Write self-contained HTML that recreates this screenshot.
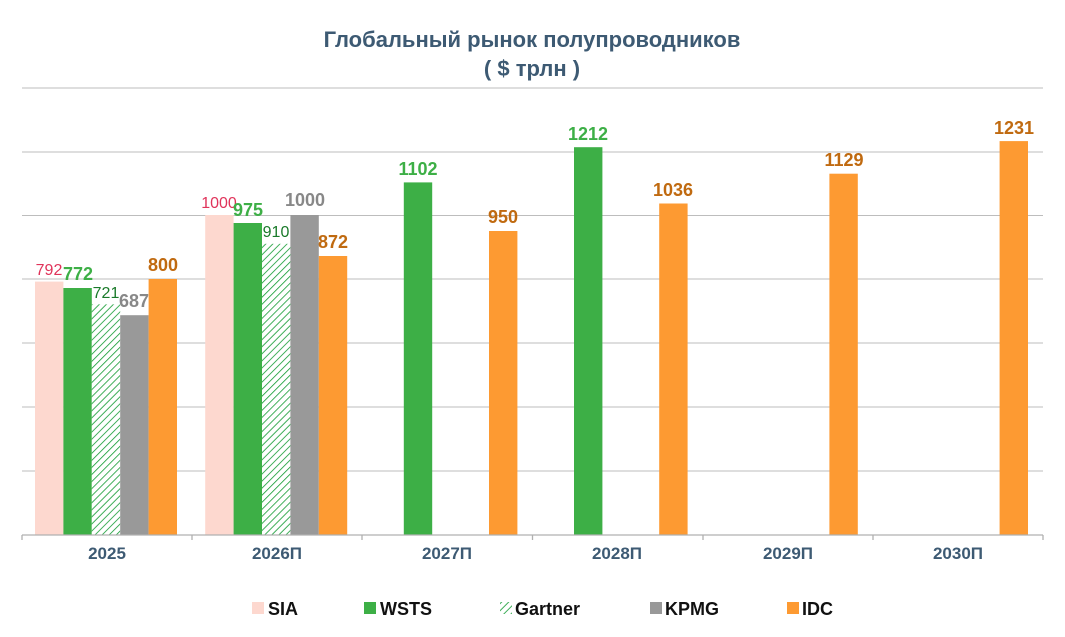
<!DOCTYPE html>
<html><head><meta charset="utf-8"><style>body{margin:0;background:#fff}svg{display:block}</style></head><body>
<svg width="1065" height="637" viewBox="0 0 1065 637" xmlns="http://www.w3.org/2000/svg" font-family="Liberation Sans, sans-serif">
<defs><pattern id="h" width="5" height="5" patternUnits="userSpaceOnUse" patternTransform="rotate(45)"><rect width="5" height="5" fill="#fff"/><line x1="0" y1="0" x2="0" y2="5" stroke="#109a30" stroke-width="1.6"/></pattern></defs>
<text x="532" y="47" text-anchor="middle" font-size="22" font-weight="bold" fill="#3d5a73">Глобальный рынок полупроводников</text>
<text x="532" y="76" text-anchor="middle" font-size="22" font-weight="bold" fill="#3d5a73">( $ трлн )</text>
<g stroke="#bdbdbd" stroke-width="1">
<line x1="22" y1="88" x2="1043" y2="88"/><line x1="22" y1="152" x2="1043" y2="152"/><line x1="22" y1="215.5" x2="1043" y2="215.5"/><line x1="22" y1="279" x2="1043" y2="279"/><line x1="22" y1="343" x2="1043" y2="343"/><line x1="22" y1="407" x2="1043" y2="407"/><line x1="22" y1="471" x2="1043" y2="471"/>
</g>
<g>
<rect x="35" y="281.6" width="28.4" height="253.4" fill="#fdd8cf"/>
<rect x="63.4" y="288" width="28.4" height="247" fill="#3daf46"/>
<rect x="91.8" y="304.3" width="28.4" height="230.7" fill="url(#h)"/>
<rect x="120.2" y="315.2" width="28.4" height="219.8" fill="#999"/>
<rect x="148.6" y="279" width="28.4" height="256" fill="#fd9a32"/>
<rect x="205.2" y="215" width="28.4" height="320" fill="#fdd8cf"/>
<rect x="233.6" y="223" width="28.4" height="312" fill="#3daf46"/>
<rect x="262" y="243.8" width="28.4" height="291.2" fill="url(#h)"/>
<rect x="290.4" y="215" width="28.4" height="320" fill="#999"/>
<rect x="318.8" y="256" width="28.4" height="279" fill="#fd9a32"/>
<rect x="403.8" y="182.4" width="28.4" height="352.6" fill="#3daf46"/>
<rect x="489" y="231" width="28.4" height="304" fill="#fd9a32"/>
<rect x="574" y="147.2" width="28.4" height="387.8" fill="#3daf46"/>
<rect x="659.2" y="203.5" width="28.4" height="331.5" fill="#fd9a32"/>
<rect x="829.4" y="173.7" width="28.4" height="361.3" fill="#fd9a32"/>
<rect x="999.6" y="141.1" width="28.4" height="393.9" fill="#fd9a32"/>
</g>
<g font-size="18" text-anchor="middle">
<text x="49" y="275" fill="#e0335a" font-size="16">792</text>
<text x="78" y="280" fill="#3daf46" font-weight="bold">772</text>
<text x="106" y="298" fill="#1a7a2a" font-size="16">721</text>
<text x="134" y="307" fill="#888" font-weight="bold">687</text>
<text x="163" y="271" fill="#c06a10" font-weight="bold">800</text>
<text x="219" y="208" fill="#e0335a" font-size="16">1000</text>
<text x="248" y="216" fill="#3daf46" font-weight="bold">975</text>
<text x="276" y="237" fill="#1a7a2a" font-size="16">910</text>
<text x="305" y="206" fill="#888" font-weight="bold">1000</text>
<text x="333" y="248" fill="#c06a10" font-weight="bold">872</text>
<text x="418" y="175" fill="#3daf46" font-weight="bold">1102</text>
<text x="503" y="223" fill="#c06a10" font-weight="bold">950</text>
<text x="588" y="140" fill="#3daf46" font-weight="bold">1212</text>
<text x="673" y="196" fill="#c06a10" font-weight="bold">1036</text>
<text x="844" y="166" fill="#c06a10" font-weight="bold">1129</text>
<text x="1014" y="134" fill="#c06a10" font-weight="bold">1231</text>
</g>
<g stroke="#b0b0b0" stroke-width="1.3">
<line x1="22" y1="535" x2="1043" y2="535"/>
<line x1="22" y1="535" x2="22" y2="540"/><line x1="192" y1="535" x2="192" y2="540"/><line x1="362" y1="535" x2="362" y2="540"/><line x1="532.5" y1="535" x2="532.5" y2="540"/><line x1="703" y1="535" x2="703" y2="540"/><line x1="873" y1="535" x2="873" y2="540"/><line x1="1043" y1="535" x2="1043" y2="540"/>
</g>
<g font-size="17" font-weight="bold" fill="#3d5a73" text-anchor="middle">
<text x="107" y="559">2025</text><text x="277" y="559">2026П</text><text x="447" y="559">2027П</text><text x="617" y="559">2028П</text><text x="788" y="559">2029П</text><text x="958" y="559">2030П</text>
</g>
<g font-size="18" font-weight="bold" fill="#111">
<rect x="252" y="602" width="12" height="12" fill="#fdd8cf"/><text x="268" y="615">SIA</text>
<rect x="364" y="602" width="12" height="12" fill="#3daf46"/><text x="380" y="615">WSTS</text>
<rect x="500" y="602" width="12" height="12" fill="url(#h)"/><text x="515" y="615">Gartner</text>
<rect x="650" y="602" width="12" height="12" fill="#999"/><text x="665" y="615">KPMG</text>
<rect x="787" y="602" width="12" height="12" fill="#fd9a32"/><text x="802" y="615">IDC</text>
</g>
</svg>
</body></html>
